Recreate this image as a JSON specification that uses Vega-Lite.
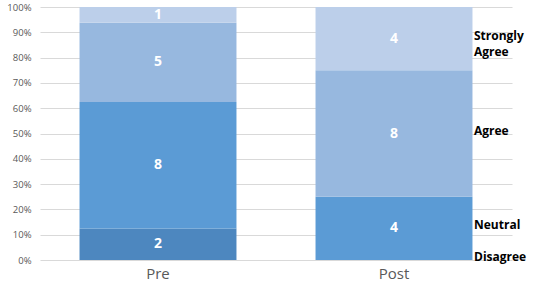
{
  "$schema": "https://vega.github.io/schema/vega-lite/v6.json",
  "width": 472,
  "height": 253,
  "autosize": "none",
  "padding": {"left": 40, "top": 7, "right": 25, "bottom": 23},
  "background": "white",
  "config": {"view": {"stroke": null}, "font": "Open Sans"},
  "data": {
    "values": [
      {"phase": "Pre", "series": "Disagree", "o": 1, "value": 2},
      {"phase": "Pre", "series": "Neutral", "o": 2, "value": 8},
      {"phase": "Pre", "series": "Agree", "o": 3, "value": 5},
      {"phase": "Pre", "series": "Strongly Agree", "o": 4, "value": 1},
      {"phase": "Post", "series": "Disagree", "o": 1, "value": 0},
      {"phase": "Post", "series": "Neutral", "o": 2, "value": 4},
      {"phase": "Post", "series": "Agree", "o": 3, "value": 8},
      {"phase": "Post", "series": "Strongly Agree", "o": 4, "value": 4}
    ]
  },
  "encoding": {
    "x": {
      "field": "phase", "type": "nominal", "sort": ["Pre", "Post"],
      "scale": {"paddingInner": 0.335, "paddingOuter": 0.1675},
      "axis": {"title": null, "labelAngle": 0, "domain": false, "ticks": false, "labelFontSize": 15, "labelColor": "#595959", "labelPadding": 6}
    },
    "y": {
      "field": "value", "type": "quantitative", "stack": "normalize",
      "axis": {"title": null, "format": ".0%", "tickCount": 10, "domain": false, "ticks": false, "gridColor": "#d9d9d9", "labelColor": "#595959", "labelFontSize": 9.5, "labelPadding": 9}
    },
    "order": {"field": "o", "type": "quantitative"}
  },
  "layer": [
    {
      "mark": {"type": "bar"},
      "encoding": {
        "color": {
          "field": "series", "type": "nominal", "legend": null,
          "scale": {"domain": ["Disagree", "Neutral", "Agree", "Strongly Agree"], "range": ["#4d87bf", "#5b9bd5", "#97b8df", "#bccfea"]}
        }
      }
    },
    {
      "transform": [{"filter": "datum.value > 0"}],
      "mark": {"type": "text", "color": "white", "fontWeight": "bold", "fontSize": 14, "baseline": "middle"},
      "encoding": {
        "y": {"field": "value", "type": "quantitative", "stack": "normalize", "bandPosition": 0.5},
        "text": {"field": "value", "type": "quantitative"}
      }
    },
    {
      "transform": [{"filter": "datum.phase == 'Post'"}],
      "mark": {"type": "text", "color": "black", "fontWeight": "bold", "fontSize": 12, "align": "left", "baseline": "middle", "dx": 80, "dy": -3, "lineBreak": " ", "lineHeight": 16},
      "encoding": {
        "y": {"field": "value", "type": "quantitative", "stack": "normalize", "bandPosition": 0.5},
        "text": {"field": "series", "type": "nominal"}
      }
    }
  ]
}
